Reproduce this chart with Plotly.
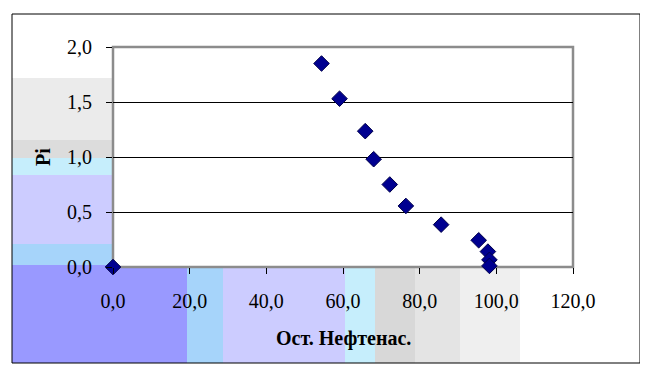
import plotly.graph_objects as go

# Data
ost_neftenas = [0.0, 54.4, 59.1, 65.8, 68.0, 72.2, 76.4, 85.6, 95.4, 97.8, 98.2, 98.2]
pi_values = [0.0, 1.85, 1.53, 1.235, 0.98, 0.75, 0.555, 0.385, 0.243, 0.14, 0.065, 0.01]
x_ticks = [0, 20, 40, 60, 80, 100, 120]
y_ticks = [0.0, 0.5, 1.0, 1.5, 2.0]

OFF = 8  # default page margin of the browser body
W, H = 648 - OFF, 376 - OFF
L, R, T, B = 113, 573, 47, 267  # plot area in page pixels


def px(x):
    return (x - L) / (R - L)


def py(y):
    return (B - y) / (B - T)


def rect(x0, y0, x1, y1, color):
    return dict(type="rect", xref="paper", yref="paper",
                x0=px(x0), x1=px(x1), y0=py(y1), y1=py(y0),
                fillcolor=color, line=dict(width=0), layer="below")


shapes = [
    # left column blocks
    rect(12, 78, 112, 140, "#ebebeb"),
    rect(12, 140, 112, 158, "#dcdcdc"),
    rect(12, 158, 112, 175, "#c6eefc"),
    rect(12, 175, 112, 244, "#ccccff"),
    rect(12, 244, 112, 265, "#a6d4fa"),
    rect(12, 265, 112, 363, "#9999ff"),
    # bottom row blocks
    rect(112, 268, 187, 363, "#9999ff"),
    rect(187, 268, 223, 363, "#a6d4fa"),
    rect(223, 268, 345, 363, "#ccccff"),
    rect(345, 268, 375, 363, "#c6eefc"),
    rect(375, 268, 415, 363, "#d8d8d8"),
    rect(415, 268, 460, 363, "#e4e4e4"),
    rect(460, 268, 520, 363, "#efefef"),
    # outer frame
    dict(type="rect", xref="paper", yref="paper",
         x0=px(12), x1=px(640), y0=py(363), y1=py(14),
         line=dict(color="black", width=1), fillcolor="rgba(0,0,0,0)", layer="above"),
    # plot area border (gray)
    dict(type="rect", xref="paper", yref="paper", x0=0, x1=1, y0=0, y1=1,
         line=dict(color="#8c8c8c", width=2.5), fillcolor="rgba(0,0,0,0)", layer="below"),
]

fig = go.Figure()
fig.add_trace(go.Scatter(
    x=ost_neftenas, y=pi_values, mode="markers",
    marker=dict(symbol="diamond", size=12, color="#000090",
                line=dict(color="#00004a", width=1)),
    cliponaxis=False, showlegend=False,
))

font = "Times New Roman, Liberation Serif, DejaVu Serif, serif"
fs = 20
fig.update_layout(
    width=W, height=H,
    margin=dict(l=L - OFF, r=W - (R - OFF), t=T - OFF, b=H - (B - OFF), pad=0),
    paper_bgcolor="white", plot_bgcolor="white",
    separators=", ",
    font=dict(family=font, size=fs, color="black"),
    shapes=shapes,
    xaxis=dict(range=[0, 120], tickvals=x_ticks, tickformat=".1f",
               ticks="outside", ticklen=6, tickcolor="black", tickwidth=1,
               showgrid=False, zeroline=False, showline=False,
               ticklabelstandoff=10,
               tickfont=dict(family=font, size=fs, color="black")),
    yaxis=dict(range=[0, 2], tickvals=y_ticks, tickformat=".1f",
               ticks="outside", ticklen=6, tickcolor="black", tickwidth=1,
               showgrid=True, gridcolor="black", gridwidth=1,
               zeroline=False, showline=False,
               ticklabelstandoff=10,
               tickfont=dict(family=font, size=fs, color="black")),
    annotations=[
        dict(text="<b>Ост. Нефтенас.</b>", xref="paper", yref="paper",
             x=px(343), y=py(338), xanchor="center", yanchor="middle",
             showarrow=False, font=dict(family=font, size=fs, color="black")),
        dict(text="<b>Pi</b>", xref="paper", yref="paper",
             x=px(43), y=py(157), xanchor="center", yanchor="middle",
             showarrow=False, textangle=-90,
             font=dict(family=font, size=fs, color="black")),
    ],
)

fig.write_html("out.html")
